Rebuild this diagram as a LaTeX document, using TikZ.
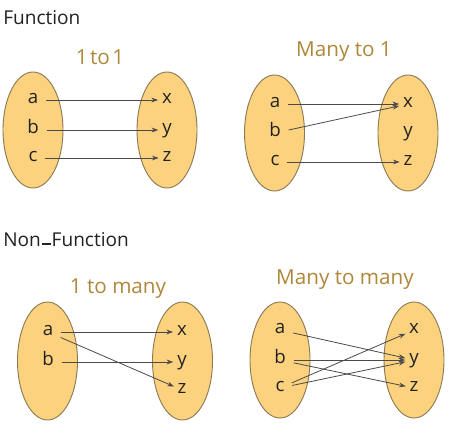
\documentclass[tikz,border=0pt]{standalone}
\usepackage{fontspec}
\setmainfont{Open Sans}
\usetikzlibrary{arrows.meta,shapes.geometric}
\definecolor{setfill}{HTML}{FCD27E}
\definecolor{setline}{HTML}{8B7B55}
\definecolor{subcol}{HTML}{B0873A}
\definecolor{arrcol}{HTML}{4A4A4A}
\definecolor{titlecol}{HTML}{222222}
\begin{document}
\begin{tikzpicture}[x=0.75pt,y=-0.75pt,
  setbox/.style={ellipse,draw=setline,line width=0.7pt,fill=setfill,minimum width=45pt,minimum height=87pt,inner sep=0pt},
  elem/.style={inner sep=0pt,outer sep=0pt,text height=0.54em,text depth=0pt,font=\fontsize{14}{16}\selectfont,text=titlecol},
  maparrow/.style={draw=arrcol,line width=0.6pt,-{Stealth[length=5pt,width=3.6pt]},shorten <=6pt,shorten >=3pt},
  heading/.style={anchor=west,inner sep=0pt,font=\fontsize{14.3}{16}\selectfont,text=titlecol},
  subhead/.style={inner sep=0pt,font=\fontsize{15.5}{18}\selectfont,text=subcol}]
\useasboundingbox[fill=white] (0,0) rectangle (474,434);

% ---------- Function ----------
\node[heading] (fun) at (3,18) {Function};

% 1 to 1
\node[subhead] (s1) at (100,57) {1\hspace{0.12em}to\hspace{0.12em}1};
\node[setbox] (L1) at (33,130) {};
\node[setbox] (R1) at (167,130) {};
\node[elem] (a1) at (33,100) {a};
\node[elem] (b1) at (33,130) {b};
\node[elem] (c1) at (33,158) {c};
\node[elem] (x1) at (167,100) {x};
\node[elem] (y1) at (167,130) {y};
\node[elem] (z1) at (167,158) {z};
\draw[maparrow] (a1) -- (x1);
\draw[maparrow] (b1) -- (y1);
\draw[maparrow] (c1) -- (z1);

% Many to 1
\node[subhead] (s2) at (344,52) {Many to 1};
\node[setbox] (L2) at (274.5,133) {};
\node[setbox] (R2) at (408,133) {};
\node[elem] (a2) at (275,104) {a};
\node[elem] (b2) at (275,133) {b};
\node[elem] (c2) at (275,162) {c};
\node[elem] (x2) at (408,104) {x};
\node[elem] (y2) at (408,133) {y};
\node[elem] (z2) at (408,162) {z};
\draw[maparrow] (a2) -- (x2);
\draw[maparrow] (b2) -- (x2);
\draw[maparrow] (c2) -- (z2);

% ---------- Non-Function ----------
\node[heading] (nonfun) at (3,240) {Non\hspace{0.06em}\rule[0.12em]{0.45em}{0.07em}\hspace{0.06em}Function};

% 1 to many
\node[subhead] (s3) at (118,289) {1 to many};
\node[setbox,minimum height=88.5pt] (L3) at (47.5,361) {};
\node[setbox,minimum height=88.5pt] (R3) at (182.5,361) {};
\node[elem] (a3) at (48,332) {a};
\node[elem] (b3) at (48,362) {b};
\node[elem] (x3) at (182,332) {x};
\node[elem] (y3) at (182,362) {y};
\node[elem] (z3) at (182,390) {z};
\draw[maparrow] (a3) -- (x3);
\draw[maparrow] (a3) -- (z3);
\draw[maparrow] (b3) -- (y3);

% Many to many
\node[subhead] (s4) at (345,280) {Many to many};
\node[setbox] (L4) at (280,360) {};
\node[setbox] (R4) at (414,360) {};
\node[elem] (a4) at (280,330) {a};
\node[elem] (b4) at (280,360) {b};
\node[elem] (c4) at (280,388) {c};
\node[elem] (x4) at (414,330) {x};
\node[elem] (y4) at (414,360) {y};
\node[elem] (z4) at (414,388) {z};
\draw[maparrow] (a4) -- (y4);
\draw[maparrow] (b4) -- (y4);
\draw[maparrow] (b4) -- (z4);
\draw[maparrow] (c4) -- (x4);
\draw[maparrow] (c4) -- (y4);
\end{tikzpicture}
\end{document}
